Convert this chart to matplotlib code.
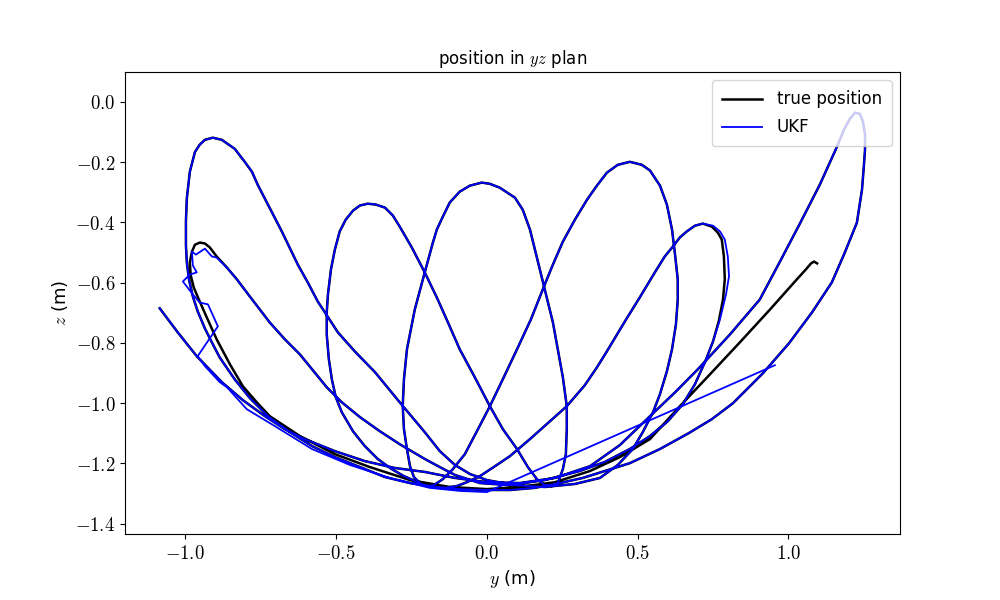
import matplotlib
matplotlib.use('Agg')
import matplotlib.pyplot as plt
from matplotlib.ticker import FuncFormatter

plt.rcParams['mathtext.fontset'] = 'cm'
plt.rcParams['font.family'] = 'DejaVu Sans'
plt.rcParams['font.size'] = 13

# true trajectory, split into swings (y, z in m)
# start -> swing to the right loop
swing1_y = [-1.085, -1.025, -0.962, -0.879, -0.809, -0.736, -0.670, -0.604, -0.504, -0.405,
            -0.305, -0.206, -0.106, 0.000, 0.109, 0.226, 0.342, 0.441, 0.541, 0.624,
            0.700, 0.806, 0.905, 0.972, 1.038, 1.104, 1.161, 1.184, 1.204, 1.221]
swing1_z = [-0.685, -0.765, -0.844, -0.930, -0.990, -1.043, -1.086, -1.119, -1.159, -1.192,
            -1.215, -1.228, -1.248, -1.262, -1.265, -1.248, -1.209, -1.139, -1.043, -0.964,
            -0.887, -0.772, -0.656, -0.530, -0.404, -0.275, -0.149, -0.093, -0.056, -0.036]

# outer arc back to the big left loop
swing2_y = [1.237, 1.247, 1.254, 1.254, 1.250, 1.244, 1.227, 1.187, 1.144, 1.078,
            1.002, 0.915, 0.816, 0.746, 0.670, 0.574, 0.474, 0.391, 0.318, 0.242,
            0.159, 0.076, 0.000, -0.090, -0.172, -0.255, -0.338, -0.428, -0.504, -0.580,
            -0.653, -0.726, -0.786, -0.836, -0.886, -0.912, -0.935, -0.959, -0.975, -0.988,
            -0.995, -0.998, -0.998, -0.995, -0.985, -0.968, -0.952, -0.935, -0.909]
swing2_z = [-0.040, -0.066, -0.109, -0.159, -0.215, -0.291, -0.401, -0.500, -0.599, -0.699,
            -0.801, -0.901, -1.000, -1.053, -1.099, -1.152, -1.199, -1.225, -1.248, -1.265,
            -1.281, -1.288, -1.288, -1.285, -1.278, -1.265, -1.245, -1.209, -1.179, -1.142,
            -1.096, -1.043, -0.983, -0.921, -0.848, -0.798, -0.752, -0.695, -0.646, -0.589,
            -0.533, -0.474, -0.397, -0.321, -0.232, -0.166, -0.142, -0.126, -0.119]

swing3_y = [-0.879, -0.836, -0.803, -0.779, -0.760, -0.726, -0.680, -0.627, -0.594, -0.561,
            -0.494, -0.438, -0.371, -0.289, -0.206, -0.156, -0.106, -0.056, 0.000, 0.093,
            0.192, 0.292, 0.375, 0.434, 0.484, 0.517, 0.551, 0.574, 0.597, 0.614,
            0.627, 0.633, 0.633, 0.624, 0.614, 0.597, 0.574, 0.541, 0.514, 0.474]
swing3_z = [-0.126, -0.156, -0.199, -0.232, -0.275, -0.341, -0.430, -0.540, -0.599, -0.662,
            -0.765, -0.828, -0.897, -0.997, -1.096, -1.159, -1.205, -1.235, -1.255, -1.272,
            -1.278, -1.268, -1.248, -1.205, -1.152, -1.096, -1.030, -0.970, -0.894, -0.821,
            -0.738, -0.656, -0.589, -0.507, -0.424, -0.341, -0.278, -0.228, -0.209, -0.199]

swing4_y = [0.434, 0.398, 0.365, 0.332, 0.292, 0.252, 0.219, 0.192, 0.146, 0.100,
            0.056, 0.010, -0.033, -0.073, -0.113, -0.146, -0.176, -0.202, -0.226, -0.245,
            -0.275, -0.315, -0.362, -0.405, -0.444, -0.481, -0.501, -0.514, -0.524, -0.531,
            -0.531, -0.527, -0.517, -0.504, -0.488, -0.468, -0.444, -0.421, -0.395]
swing4_z = [-0.209, -0.235, -0.278, -0.325, -0.391, -0.464, -0.540, -0.606, -0.722, -0.821,
            -0.914, -1.010, -1.093, -1.169, -1.219, -1.252, -1.272, -1.275, -1.268, -1.255,
            -1.242, -1.219, -1.185, -1.142, -1.093, -1.030, -0.980, -0.921, -0.854, -0.772,
            -0.699, -0.639, -0.556, -0.490, -0.430, -0.391, -0.361, -0.344, -0.338]

swing5_y = [-0.368, -0.338, -0.312, -0.289, -0.249, -0.206, -0.166, -0.129, -0.090, -0.040,
            0.010, 0.053, 0.100, 0.136, 0.166, 0.192, 0.216, 0.235, 0.252, 0.262,
            0.265, 0.265, 0.252, 0.235, 0.219, 0.192, 0.166, 0.143, 0.119, 0.093,
            0.043, 0.010, -0.017]
swing5_z = [-0.341, -0.351, -0.377, -0.414, -0.483, -0.566, -0.649, -0.732, -0.821, -0.914,
            -1.010, -1.086, -1.152, -1.212, -1.252, -1.272, -1.275, -1.265, -1.219, -1.169,
            -1.086, -1.010, -0.914, -0.821, -0.732, -0.623, -0.517, -0.424, -0.358, -0.318,
            -0.285, -0.272, -0.268]

swing6_y = [-0.056, -0.090, -0.123, -0.146, -0.166, -0.179, -0.206, -0.239, -0.265, -0.275,
            -0.279, -0.275, -0.265, -0.255, -0.242, -0.219, -0.179, -0.139, -0.100, -0.066,
            -0.023, 0.027, 0.076, 0.143, 0.209, 0.265, 0.325, 0.365, 0.398, 0.458,
            0.507, 0.557, 0.590, 0.617, 0.640, 0.663, 0.690, 0.716]
swing6_z = [-0.278, -0.298, -0.334, -0.381, -0.424, -0.467, -0.566, -0.689, -0.821, -0.921,
            -1.010, -1.086, -1.152, -1.209, -1.245, -1.268, -1.278, -1.281, -1.275, -1.262,
            -1.242, -1.209, -1.176, -1.119, -1.060, -1.010, -0.940, -0.881, -0.828, -0.728,
            -0.649, -0.566, -0.513, -0.480, -0.450, -0.430, -0.411, -0.404]

swing7_y = [0.746, 0.766, 0.779, 0.786, 0.789, 0.783, 0.769, 0.750, 0.723, 0.690,
            0.650, 0.600, 0.541, 0.474, 0.391, 0.308, 0.192, 0.076, -0.023, -0.106,
            -0.156, -0.206, -0.289, -0.355, -0.421, -0.481, -0.531, -0.580, -0.620, -0.670,
            -0.720, -0.753, -0.786, -0.829, -0.862, -0.896, -0.919, -0.935, -0.952]
swing7_z = [-0.414, -0.434, -0.457, -0.513, -0.589, -0.656, -0.728, -0.795, -0.864, -0.937,
            -1.003, -1.060, -1.109, -1.152, -1.195, -1.225, -1.255, -1.272, -1.265, -1.238,
            -1.212, -1.185, -1.136, -1.093, -1.046, -0.997, -0.947, -0.887, -0.838, -0.788,
            -0.732, -0.689, -0.646, -0.589, -0.550, -0.513, -0.483, -0.470, -0.467]

# last swing, ends in the small hook on the right
swing8_y = [-0.968, -0.978, -0.985, -0.982, -0.972, -0.955, -0.929, -0.896, -0.852, -0.809,
            -0.763, -0.720, -0.620, -0.504, -0.388, -0.255, -0.123, 0.000, 0.109, 0.226,
            0.342, 0.441, 0.541, 0.640, 0.740, 0.839, 0.939, 1.028, 1.058, 1.075,
            1.085, 1.095]
swing8_z = [-0.474, -0.497, -0.533, -0.576, -0.616, -0.656, -0.715, -0.788, -0.871, -0.944,
            -0.997, -1.043, -1.109, -1.169, -1.212, -1.255, -1.278, -1.285, -1.278, -1.262,
            -1.225, -1.179, -1.119, -1.010, -0.904, -0.798, -0.689, -0.589, -0.556, -0.536,
            -0.530, -0.536]

# UKF: where it leaves the true path
ukf_top_y = [0.750, 0.773, 0.789, 0.799, 0.803, 0.793, 0.773]
ukf_top_z = [-0.411, -0.430, -0.457, -0.513, -0.579, -0.639, -0.722]
ukf_tail_y = [-0.896, -0.912, -0.935, -0.965, -0.978, -0.975, -0.962, -0.985, -1.008, -0.975,
              -0.952, -0.925, -0.892, -0.959, -0.935, -0.886, -0.862, -0.796, -0.703, -0.580,
              -0.454, -0.322, -0.189, -0.090, 0.000, 0.955]
ukf_tail_z = [-0.517, -0.513, -0.487, -0.507, -0.497, -0.543, -0.566, -0.573, -0.596, -0.639,
              -0.666, -0.672, -0.745, -0.844, -0.877, -0.930, -0.947, -1.020, -1.076, -1.152,
              -1.205, -1.248, -1.281, -1.291, -1.295, -0.874]

true_y = swing1_y + swing2_y + swing3_y + swing4_y + swing5_y + swing6_y + swing7_y + swing8_y
true_z = swing1_z + swing2_z + swing3_z + swing4_z + swing5_z + swing6_z + swing7_z + swing8_z

first = swing1_y + swing2_y + swing3_y + swing4_y + swing5_y + swing6_y
ukf_y = first + ukf_top_y + swing7_y[7:35] + ukf_tail_y
first = swing1_z + swing2_z + swing3_z + swing4_z + swing5_z + swing6_z
ukf_z = first + ukf_top_z + swing7_z[7:35] + ukf_tail_z

fig = plt.figure(figsize=(10, 6))
plt.plot(true_y, true_z, color='k', lw=1.8, solid_joinstyle='round', label='true position')
plt.plot(ukf_y, ukf_z, color='b', lw=1.3, solid_joinstyle='round', label='UKF')
plt.xlim(-1.2, 1.37)
plt.ylim(-1.434, 0.099)
plt.xticks([-1.0, -0.5, 0.0, 0.5, 1.0])
plt.yticks([0.0, -0.2, -0.4, -0.6, -0.8, -1.0, -1.2, -1.4])
fmt = FuncFormatter(lambda v, pos: '$%.1f$' % v)
plt.gca().xaxis.set_major_formatter(fmt)
plt.gca().yaxis.set_major_formatter(fmt)
plt.tick_params(labelsize=13.5)
plt.xlabel('$y$ (m)')
plt.ylabel('$z$ (m)')
plt.title('position in $yz$ plan', fontsize=12)
plt.legend(loc='upper right', fontsize=12, handlelength=2.4, labelspacing=0.6,
           borderpad=0.6, handletextpad=0.9)
plt.savefig('out.png', dpi=100)
